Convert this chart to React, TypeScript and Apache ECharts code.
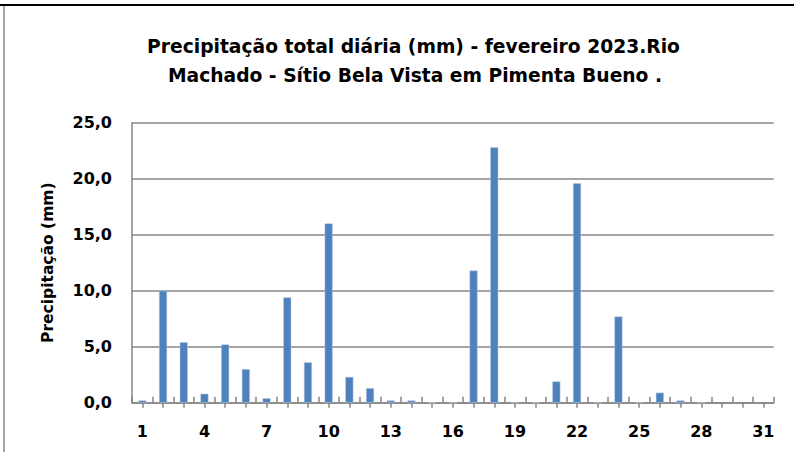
import React, { useEffect, useRef } from "react";
import * as echarts from "echarts";

const days: string[] = Array.from({ length: 31 }, (_, i) => String(i + 1));
const rainfall: (number | null)[] = [
  0.2, 10.0, 5.4, 0.8, 5.2, 3.0, 0.4, 9.4, 3.6, 16.0,
  2.3, 1.3, 0.2, 0.2, 0, 0, 11.8, 22.8, 0, 0,
  1.9, 19.6, 0, 7.7, 0, 0.9, 0.2, 0, null, null, null,
];
const yTicks = { min: 0, max: 25, interval: 5 };
const titleLines = [
  "Precipitação total diária (mm) - fevereiro 2023.Rio",
  "Machado - Sítio Bela Vista em Pimenta Bueno .",
];
const yName = "Precipitação (mm)";

const FONT = "DejaVu Sans";
const GRAY = "#868686";

export default function App() {
  const ref = useRef<HTMLDivElement>(null);
  useEffect(() => {
    if (!ref.current) return;
    const chart = echarts.init(ref.current, null, { renderer: "svg" });
    const titleStyle = {
      fontFamily: FONT,
      fontWeight: "bold",
      fontSize: 18.7,
      fill: "#000",
      align: "center",
      verticalAlign: "middle",
    };
    chart.setOption({
      animation: false,
      backgroundColor: "#ffffff",
      grid: { left: 132, top: 122.7, right: 20.3, bottom: 49.3, containLabel: false },
      xAxis: [
        {
          type: "category",
          data: days,
          boundaryGap: true,
          axisLine: { show: true, lineStyle: { color: GRAY, width: 1.5 } },
          axisTick: { show: true, alignWithLabel: true, interval: 0, length: 5, lineStyle: { color: GRAY, width: 1.5 } },
          axisLabel: {
            interval: 2,
            margin: 21,
            fontFamily: FONT,
            fontWeight: "bold",
            fontSize: 16,
            color: "#000",
          },
          splitLine: { show: false },
        },
        {
          type: "category",
          data: days,
          position: "bottom",
          boundaryGap: true,
          axisLine: { show: false },
          axisTick: { show: true, inside: true, interval: 0, length: 6, lineStyle: { color: GRAY, width: 1.5 } },
          axisLabel: { show: false },
          splitLine: { show: false },
        },
      ],
      yAxis: {
        type: "value",
        min: yTicks.min,
        max: yTicks.max,
        interval: yTicks.interval,
        name: yName,
        nameLocation: "middle",
        nameRotate: 90,
        nameGap: 76,
        nameTextStyle: { fontFamily: FONT, fontWeight: "bold", fontSize: 15.5, color: "#000" },
        axisLine: { show: true, lineStyle: { color: GRAY, width: 1.5 } },
        axisTick: { show: false },
        axisLabel: {
          margin: 20,
          fontFamily: FONT,
          fontWeight: "bold",
          fontSize: 16,
          color: "#000",
          formatter: (v: number) => v.toFixed(1).replace(".", ","),
        },
        splitLine: { show: true, lineStyle: { color: GRAY, width: 1.5 } },
      },
      series: [
        {
          type: "bar",
          xAxisIndex: 0,
          data: rainfall,
          barWidth: 8,
          itemStyle: { color: "#4F81BD", borderColor: "#B9CDE5", borderWidth: 0.5 },
        },
      ],
      graphic: [
        { type: "rect", shape: { x: 0, y: 4, width: 794, height: 2 }, style: { fill: "#000" } },
        { type: "rect", shape: { x: 3.3, y: 6, width: 1.4, height: 446 }, style: { fill: "#808080" } },
        { type: "text", x: 413.5, y: 46, style: { ...titleStyle, text: titleLines[0] } },
        { type: "text", x: 415, y: 75, style: { ...titleStyle, text: titleLines[1] } },
      ],
    });
    return () => chart.dispose();
  }, []);
  return (
    <div
      ref={ref}
      style={{ position: "fixed", left: 0, top: 0, width: 794, height: 452 }}
    />
  );
}
